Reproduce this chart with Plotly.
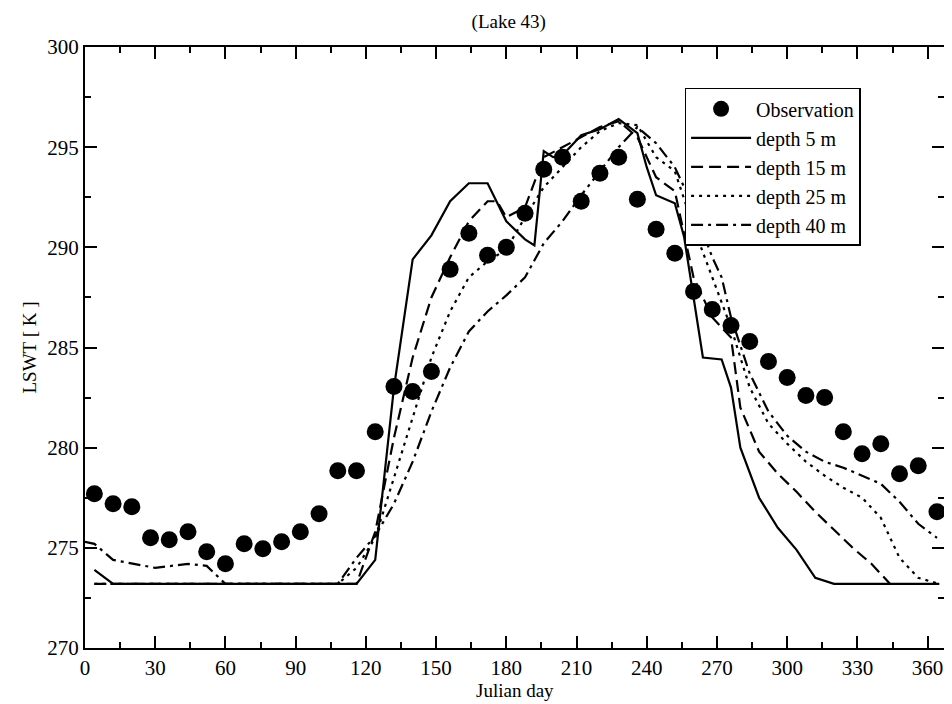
import plotly.graph_objects as go

obs_day = [4, 12, 20, 28, 36, 44, 52, 60, 68, 76, 84, 92, 100, 108, 116, 124, 132, 140, 148, 156,
           164, 172, 180, 188, 196, 204, 212, 220, 228, 236, 244, 252, 260, 268, 276, 284, 292, 300,
           308, 316, 324, 332, 340, 348, 356, 364]
obs_val = [277.7, 277.2, 277.05, 275.5, 275.4, 275.8, 274.8, 274.2, 275.2, 274.95, 275.3, 275.8, 276.7,
           278.85, 278.85, 280.8, 283.05, 282.8, 283.8, 288.9, 290.7, 289.6, 290.0, 291.7, 293.9, 294.5,
           292.3, 293.7, 294.5, 292.4, 290.9, 289.7, 287.8, 286.9, 286.1, 285.3, 284.3, 283.5, 282.6,
           282.5, 280.8, 279.7, 280.2, 278.7, 279.1, 276.8]

d5_day = [4, 12, 116, 124, 132, 140, 148, 156, 164, 172, 180, 188, 192, 196, 200, 204, 212, 220, 228,
          236, 240, 244, 252, 256, 264, 272, 276, 280, 288, 296, 304, 312, 320, 365]
d5_val = [273.9, 273.2, 273.2, 274.4, 283.0, 289.4, 290.6, 292.3, 293.2, 293.2, 291.3, 290.4, 290.1,
          294.8, 294.5, 294.6, 295.6, 295.9, 296.4, 295.7, 294.0, 292.6, 292.2, 290.5, 284.5, 284.4,
          283.0, 280.0, 277.5, 276.0, 274.9, 273.5, 273.2, 273.2]

d15_day = [4, 116, 124, 132, 140, 148, 156, 164, 172, 176, 180, 188, 196, 204, 212, 220, 228, 236, 244,
           252, 260, 268, 276, 280, 288, 296, 304, 312, 320, 328, 336, 344]
d15_val = [273.2, 273.2, 275.8, 280.5, 284.5, 287.5, 289.5, 291.3, 292.3, 292.3, 291.5, 292.0, 294.5,
           295.0, 295.5, 296.0, 296.3, 295.5, 293.5, 292.8, 288.5, 286.5, 285.5, 282.0, 279.8, 278.7,
           277.8, 276.8, 275.9, 275.0, 274.2, 273.2]

d25_day = [4, 108, 116, 124, 132, 140, 148, 156, 164, 172, 180, 188, 196, 204, 212, 220, 228, 236, 244,
           252, 260, 268, 276, 284, 292, 300, 308, 316, 324, 332, 340, 348, 356, 365]
d25_val = [273.2, 273.2, 274.0, 275.5, 278.5, 281.5, 284.5, 286.8, 288.5, 289.3, 289.9, 291.5, 293.0,
           294.0, 295.0, 295.8, 296.2, 296.1, 294.5, 293.8, 291.0, 288.5, 286.0, 283.0, 281.2, 280.2,
           279.3, 278.6, 278.0, 277.5, 276.5, 274.5, 273.5, 273.2]

d40_day = [0, 4, 12, 30, 44, 52, 60, 108, 116, 124, 132, 140, 148, 156, 164, 172, 180, 188, 196, 204,
           212, 220, 228, 236, 244, 252, 260, 268, 272, 276, 284, 292, 300, 308, 316, 324, 332, 340,
           348, 356, 364]
d40_val = [275.3, 275.2, 274.4, 274.0, 274.2, 274.1, 273.2, 273.2, 274.5, 275.6, 277.2, 279.3, 281.8,
           284.0, 285.8, 286.8, 287.6, 288.5, 290.2, 291.3, 292.6, 293.8, 295.0, 296.0, 295.2, 294.0,
           292.0, 289.5, 288.5, 286.5, 283.7, 281.8, 280.6, 279.8, 279.3, 279.0, 278.6, 278.2, 277.3,
           276.2, 275.5]

font = "Liberation Serif, Times New Roman, serif"
fig = go.Figure()
fig.add_trace(go.Scatter(x=obs_day, y=obs_val, mode="markers", name="Observation",
                         marker=dict(color="black", size=17)))
for d, v, n, dash in [(d5_day, d5_val, "depth 5 m", "solid"),
                      (d15_day, d15_val, "depth 15 m", "12px,6px"),
                      (d25_day, d25_val, "depth 25 m", "3px,5px"),
                      (d40_day, d40_val, "depth 40 m", "12px,5px,3px,5px")]:
    fig.add_trace(go.Scatter(x=d, y=v, mode="lines", name=n,
                             line=dict(color="black", width=2.2, dash=dash)))

axis = dict(showgrid=False, zeroline=False, showline=True, mirror="ticks", linecolor="black",
            linewidth=2, ticks="inside", ticklen=12, tickwidth=1.5, tickcolor="black",
            tickfont=dict(size=21, family=font, color="black"), automargin=False)
fig.update_layout(
    width=936, height=696, plot_bgcolor="white", paper_bgcolor="white",
    margin=dict(l=77, r=0, t=39, b=56),
    font=dict(family=font, color="black"),
    title=dict(text="(Lake 43)", x=0.535, y=0.99, xanchor="center", yanchor="top",
               font=dict(size=19, family=font)),
    xaxis=dict(axis, range=[0, 367], tickvals=list(range(0, 361, 30)),
               minor=dict(tickvals=list(range(15, 366, 30)), ticks="inside", ticklen=6,
                          tickcolor="black", tickwidth=1.5)),
    yaxis=dict(axis, range=[270, 300], tickvals=list(range(270, 301, 5)),
               minor=dict(tickvals=[272.5 + 5 * i for i in range(6)], ticks="inside", ticklen=6,
                          tickcolor="black", tickwidth=1.5),
               title=dict(text="LSWT [ K ]", font=dict(size=19, family=font), standoff=6)),
    legend=dict(x=0.698, y=0.932, xanchor="left", yanchor="top", bgcolor="white",
                bordercolor="black", borderwidth=1.5, font=dict(size=20, family=font),
                tracegroupgap=0, itemwidth=60),
    showlegend=True,
)
fig.add_annotation(text="Julian day", xref="paper", yref="paper", x=0.5, y=-0.07,
                   xanchor="center", yanchor="middle", showarrow=False,
                   font=dict(size=19, family=font))
fig.write_html("out.html")
